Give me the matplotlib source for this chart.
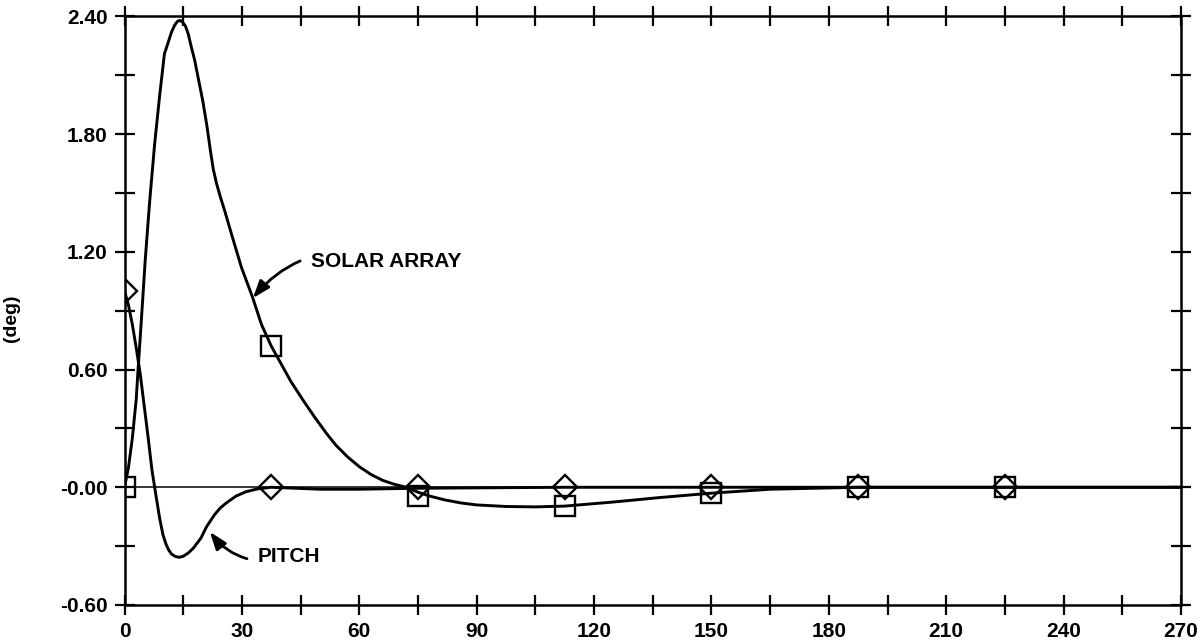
import numpy as np
import matplotlib
matplotlib.use("Agg")
import matplotlib.pyplot as plt
from matplotlib.ticker import MultipleLocator

plt.rcParams['font.family'] = ['Liberation Sans', 'DejaVu Sans']
plt.rcParams['font.weight'] = 'bold'

# time axis ticks and labels
x_ticks = [0, 30, 60, 90, 120, 150, 180, 210, 240, 270]
y_ticks = [-0.60, 0.0, 0.60, 1.20, 1.80, 2.40]
y_tick_labels = ['-0.60', '-0.00', '0.60', '1.20', '1.80', '2.40']

# solar array response (deg)
solar_t = [0, 1.0, 2.0, 3.0, 3.4, 4.3, 5.3, 6.4, 7.7, 9.0, 10.2, 11.2, 12.0,
           12.8, 13.5, 14.2, 14.9, 15.6, 16.3, 17.0, 17.9, 19.0, 20.0, 21.0,
           22.0, 22.7, 23.5, 24.5, 25.6, 27.5, 29.9, 32.7, 35.0, 37.5, 40.0,
           42.5, 45.6, 48.5, 51.6, 54.0, 57.0, 60.0, 63.0, 66.0, 69.0, 72.0,
           75.0, 78.0, 82.0, 86.0, 90.0, 97.6, 105.0, 112.5, 125.0, 137.0,
           150.0, 165.0, 187.5, 225.0, 270.0]
solar_y = [0.0, 0.10, 0.25, 0.45, 0.58, 0.85, 1.16, 1.45, 1.75, 2.00, 2.21,
           2.27, 2.32, 2.355, 2.375, 2.38, 2.37, 2.35, 2.31, 2.25, 2.18,
           2.07, 1.97, 1.85, 1.71, 1.62, 1.55, 1.48, 1.41, 1.28, 1.12, 0.97,
           0.83, 0.72, 0.63, 0.54, 0.445, 0.36, 0.275, 0.215, 0.155, 0.105,
           0.065, 0.035, 0.015, 0.0, -0.025, -0.045, -0.065, -0.08, -0.09,
           -0.098, -0.10, -0.096, -0.075, -0.052, -0.03, -0.01, 0.0, 0.0, 0.0]

# pitch response (deg)
pitch_t = [0, 1.0, 2.0, 3.0, 4.0, 5.0, 6.0, 7.0, 8.1, 9.0, 9.8, 10.6, 11.3,
           12.0, 13.0, 14.0, 15.0, 16.3, 17.6, 19.5, 21.0, 23.0, 24.5, 26.0,
           28.5, 31.0, 34.0, 37.5, 50.0, 60.0, 75.0, 112.5, 150.0, 270.0]
pitch_y = [1.0, 0.93, 0.83, 0.71, 0.58, 0.42, 0.26, 0.09, -0.05, -0.16, -0.24,
           -0.29, -0.32, -0.34, -0.353, -0.357, -0.352, -0.335, -0.31, -0.26,
           -0.20, -0.14, -0.105, -0.08, -0.045, -0.023, -0.008, 0.0, -0.01,
           -0.01, -0.005, 0.0, 0.0, 0.0]

# symbol positions along each curve
mark_t = [0, 37.5, 75, 112.5, 150, 187.5, 225]
solar_mark = [0.0, 0.72, -0.045, -0.096, -0.03, 0.0, 0.0]
pitch_mark = [1.0, 0.0, 0.0, 0.0, 0.0, 0.0, 0.0]

fig = plt.figure(figsize=(12.03, 6.44), dpi=100)
ax = fig.add_axes([0.1035, 0.0606, 0.8782, 0.9138])

ax.axhline(0, color='black', lw=1.1, zorder=1)
ax.plot(solar_t, solar_y, color='black', lw=2.1, zorder=2)
ax.plot(pitch_t, pitch_y, color='black', lw=2.1, zorder=2)
ax.plot(mark_t, solar_mark, ls='none', marker='s', ms=14, mfc='none',
        mec='black', mew=1.7, zorder=3)
ax.plot(mark_t, pitch_mark, ls='none', marker='D', ms=12, mfc='none',
        mec='black', mew=1.7, zorder=3)

ax.annotate('SOLAR ARRAY', xy=(32.8, 0.964), xytext=(47.6, 1.152),
            fontsize=15, fontweight='bold', va='center', ha='left',
            arrowprops=dict(arrowstyle='-|>,head_length=0.7,head_width=0.25',
                            connectionstyle='arc3,rad=0.35', color='black',
                            lw=2.0, shrinkA=6, shrinkB=0))
ax.annotate('PITCH', xy=(21.8, -0.227), xytext=(34.1, -0.354),
            fontsize=15, fontweight='bold', va='center', ha='left',
            arrowprops=dict(arrowstyle='-|>,head_length=0.7,head_width=0.25',
                            connectionstyle='arc3,rad=-0.35', color='black',
                            lw=2.0, shrinkA=6, shrinkB=0))

ax.set_xlim(0, 270)
ax.set_ylim(-0.60, 2.40)
ax.set_xticks(x_ticks)
ax.set_yticks(y_ticks)
ax.set_yticklabels(y_tick_labels)
ax.xaxis.set_minor_locator(MultipleLocator(15))
ax.yaxis.set_minor_locator(MultipleLocator(0.30))
for which in ('major', 'minor'):
    ax.tick_params(which=which, direction='inout', length=14, width=1.6,
                   top=True, right=True, color='black')
ax.tick_params(which='major', labelsize=15, pad=5)
for lab in ax.get_xticklabels() + ax.get_yticklabels():
    lab.set_fontweight('bold')

for sp in ax.spines.values():
    sp.set_linewidth(1.8)

ax.set_ylabel('(deg)', fontsize=14, fontweight='bold')
ax.yaxis.set_label_coords(-0.099, 0.488)

fig.savefig('out.png', dpi=100)
